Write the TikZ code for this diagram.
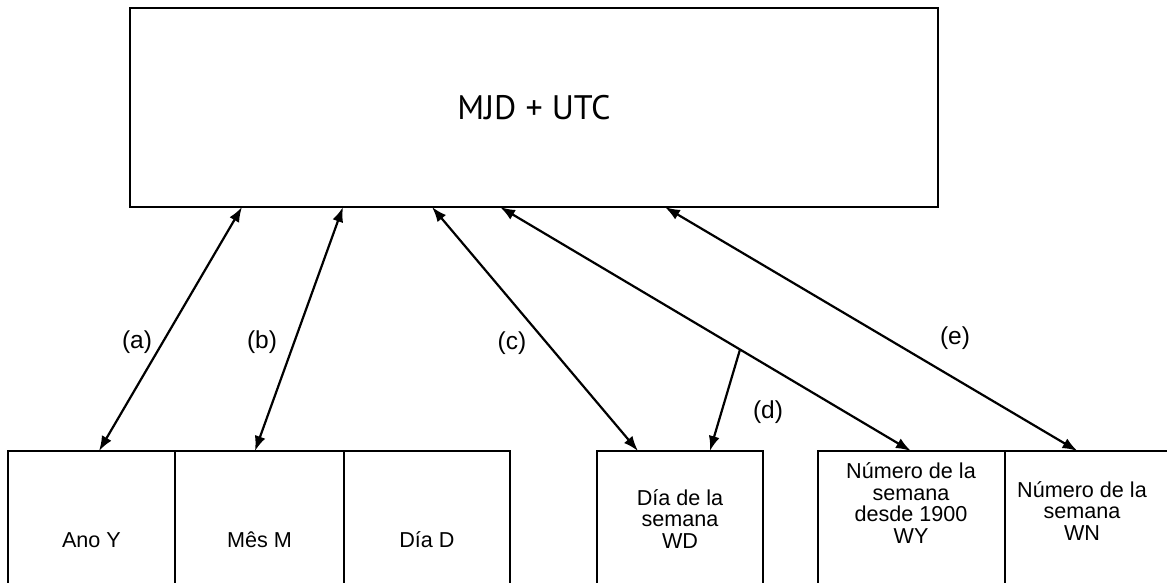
\documentclass[tikz,border=0pt]{standalone}
\usepackage{fontspec}
\setmainfont{Liberation Sans}
\newfontfamily\titlefont{PT Sans}
\usetikzlibrary{arrows.meta,calc}
\begin{document}
\begin{tikzpicture}[x=1pt,y=-1pt,
  topbox/.style={draw, line width=2pt, minimum width=808pt, minimum height=199pt,
    inner sep=0pt, outer sep=0pt, anchor=north west,
    font=\titlefont\fontsize{34}{36}\selectfont},
  cell/.style={draw, line width=1.6pt, minimum height=200pt, inner sep=0pt,
    outer sep=0pt, anchor=north west},
  txt/.style={font=\fontsize{21.6}{21.8}\selectfont, align=center, inner sep=0pt},
  lab/.style={font=\fontsize{24.5}{26}\selectfont, inner sep=0pt},
  link/.style={line width=2.2pt, {Latex[length=15pt,width=11pt]}-{Latex[length=15pt,width=11pt]}},
  one/.style={line width=2.2pt, -{Latex[length=15pt,width=11pt]}}]
\clip (0,0) rectangle (1167,583);
% top box
\node[topbox] (mjd) at (130,8) {MJD + UTC};
% bottom cells
\node[cell, minimum width=167pt] (ano) at (8,451) {};
\node[cell, minimum width=169pt] (mes) at (175,451) {};
\node[cell, minimum width=166pt] (dia) at (344,451) {};
\node[cell, minimum width=166pt] (wd) at (597,451) {};
\node[cell, minimum width=187pt] (wy) at (818,451) {};
\node[cell, minimum width=175pt] (wn) at (1005,451) {};
% cell texts
\node[txt] (anoT) at (91.5,540) {Ano Y};
\node[txt] (mesT) at (259.5,540) {Mês M};
\node[txt] (diaT) at (427,540) {Día D};
\node[txt] (wdT) at (680,519) {Día de la\\semana\\WD};
\node[txt] (wyT) at (911,503) {Número de la\\semana\\desde 1900\\WY};
\node[txt] (wnT) at (1082,511) {Número de la\\semana\\WN};
% connector end points
\coordinate (aT) at ($(mjd.south west)!0.1386!(mjd.south east)$);
\coordinate (bT) at ($(mjd.south west)!0.2636!(mjd.south east)$);
\coordinate (cT) at ($(mjd.south west)!0.3738!(mjd.south east)$);
\coordinate (yT) at ($(mjd.south west)!0.458!(mjd.south east)$);
\coordinate (eT) at ($(mjd.south west)!0.662!(mjd.south east)$);
\coordinate (aB) at ($(ano.north west)!0.545!(ano.north east)$);
\coordinate (bB) at ($(mes.north west)!0.473!(mes.north east)$);
\coordinate (cB) at ($(wd.north west)!0.247!(wd.north east)$);
\coordinate (dB) at ($(wd.north west)!0.68!(wd.north east)$);
\coordinate (yB) at ($(wy.north west)!0.497!(wy.north east)$);
\coordinate (eB) at ($(wn.north west)!0.414!(wn.north east)$);
\coordinate (dS) at ($(yT)!0.584!(yB)$);
% connectors
\draw[link] (aT) -- (aB);
\draw[link] (bT) -- (bB);
\draw[link] (cT) -- (cB);
\draw[link] (yT) -- (yB);
\draw[link] (eT) -- (eB);
\draw[one] (dS) -- (dB);
% labels
\node[lab] (la) at (137,342) {(a)};
\node[lab] (lb) at (262,342) {(b)};
\node[lab] (lc) at (512,343) {(c)};
\node[lab] (ld) at (768,412) {(d)};
\node[lab] (le) at (955,338) {(e)};
\end{tikzpicture}
\end{document}
